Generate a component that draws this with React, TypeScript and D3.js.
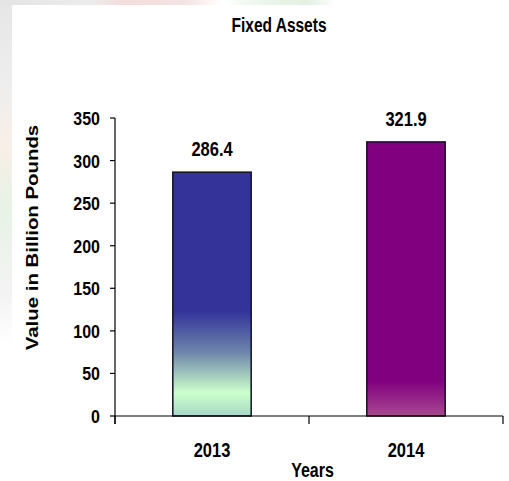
import React from "react";
import * as d3 from "d3";

const years = ["2013", "2014"];
const values = [286.4, 321.9];
const valueLabels = ["286.4", "321.9"];
const yTicks = [0, 50, 100, 150, 200, 250, 300, 350];
const title = "Fixed Assets";
const xTitle = "Years";
const yTitle = "Value in Billion Pounds";

const W = 509;
const H = 481;
const FONT = "'Liberation Sans', Arial, sans-serif";

export default function App() {
  const x0 = 115, x1 = 503, yBottom = 416, yTop = 118;
  const x = d3.scaleBand<string>().domain(years).range([x0, x1]).padding(0);
  const y = d3.scaleLinear().domain([0, 350]).range([yBottom, yTop]);
  const barW = x.bandwidth() * 0.404;
  const gradIds = ["g2013", "g2014"];

  return (
    <div style={{ position: "absolute", left: 0, top: 0 }}>
      <svg width={W} height={H} style={{ display: "block" }}>
        <defs>
          <linearGradient id="g2013" x1="0" y1="0" x2="0" y2="1">
            <stop offset="0" stopColor="#333399" />
            <stop offset="0.57" stopColor="#333399" />
            <stop offset="0.74" stopColor="#6f86ab" />
            <stop offset="0.905" stopColor="#ccffcc" />
            <stop offset="1" stopColor="#a6d8c6" />
          </linearGradient>
          <linearGradient id="g2014" x1="0" y1="0" x2="0" y2="1">
            <stop offset="0" stopColor="#800080" />
            <stop offset="0.87" stopColor="#800080" />
            <stop offset="1" stopColor="#a8488e" />
          </linearGradient>
          <linearGradient id="leftStrip" x1="0" y1="0" x2="0" y2="1">
            <stop offset="0" stopColor="#e6e6e6" />
            <stop offset="0.25" stopColor="#eeeeee" />
            <stop offset="0.42" stopColor="#f8efe8" />
            <stop offset="0.6" stopColor="#e8f2e6" />
            <stop offset="0.85" stopColor="#f3f3f3" />
            <stop offset="1" stopColor="#ffffff" />
          </linearGradient>
          <linearGradient id="topStrip" x1="0" y1="0" x2="1" y2="0">
            <stop offset="0" stopColor="#e4e4e4" />
            <stop offset="0.18" stopColor="#ececec" />
            <stop offset="0.24" stopColor="#f4dcdc" />
            <stop offset="0.36" stopColor="#f6e2e2" />
            <stop offset="0.44" stopColor="#ffffff" />
            <stop offset="0.5" stopColor="#eef6ee" />
            <stop offset="0.6" stopColor="#e2f0e2" />
            <stop offset="0.66" stopColor="#ffffff" />
            <stop offset="1" stopColor="#ffffff" />
          </linearGradient>
        </defs>
        <rect x={0} y={0} width={W} height={H} fill="#ffffff" />
        <rect x={0} y={0} width={12} height={345} fill="url(#leftStrip)" />
        <rect x={0} y={0} width={W} height={5} fill="url(#topStrip)" />

        {/* title */}
        <text
          transform={`translate(279,32) scale(1,1.3)`}
          textAnchor="middle"
          fontFamily={FONT}
          fontWeight="bold"
          fontSize={15.5}
          fill="#000"
        >
          {title}
        </text>

        {/* bars */}
        {years.map((yr, i) => {
          const cx = (x(yr) as number) + x.bandwidth() / 2;
          const top = y(values[i]);
          return (
            <g key={yr}>
              <rect
                x={cx - barW / 2}
                y={top}
                width={barW}
                height={yBottom - top}
                fill={`url(#${gradIds[i]})`}
                stroke="#111122"
                strokeWidth={1.5}
              />
              <text
                transform={`translate(${cx},${top - 16}) scale(1,1.25)`}
                textAnchor="middle"
                fontFamily={FONT}
                fontWeight="bold"
                fontSize={16.5}
                fill="#000"
              >
                {valueLabels[i]}
              </text>
              <text
                transform={`translate(${cx},457) scale(1,1.25)`}
                textAnchor="middle"
                fontFamily={FONT}
                fontWeight="bold"
                fontSize={16.5}
                fill="#000"
              >
                {yr}
              </text>
            </g>
          );
        })}

        {/* y axis */}
        <line x1={x0} x2={x0} y1={yTop} y2={yBottom + 8} stroke="#000" strokeWidth={1.2} />
        {yTicks.map((t) => (
          <g key={t}>
            <line x1={x0 - 5} x2={x0} y1={y(t)} y2={y(t)} stroke="#000" strokeWidth={1.2} />
            <text
              transform={`translate(100,${y(t) + 7}) scale(1,1.15)`}
              textAnchor="end"
              fontFamily={FONT}
              fontWeight="bold"
              fontSize={16}
              fill="#000"
            >
              {t}
            </text>
          </g>
        ))}

        {/* x axis */}
        <line x1={x0} x2={x1} y1={yBottom} y2={yBottom} stroke="#000" strokeWidth={1.2} />
        {[...years.map((yr) => x(yr) as number), x1].map((px, i) => (
          <line key={i} x1={px} x2={px} y1={yBottom} y2={yBottom + 8} stroke="#000" strokeWidth={1.2} />
        ))}

        <text
          transform={`translate(312.5,477) scale(1,1.25)`}
          textAnchor="middle"
          fontFamily={FONT}
          fontWeight="bold"
          fontSize={16}
          fill="#000"
        >
          {xTitle}
        </text>

        <text
          transform={`translate(38,237.5) rotate(-90) scale(1.2,1)`}
          textAnchor="middle"
          fontFamily={FONT}
          fontWeight="bold"
          fontSize={17}
          fill="#000"
        >
          {yTitle}
        </text>
      </svg>
    </div>
  );
}
